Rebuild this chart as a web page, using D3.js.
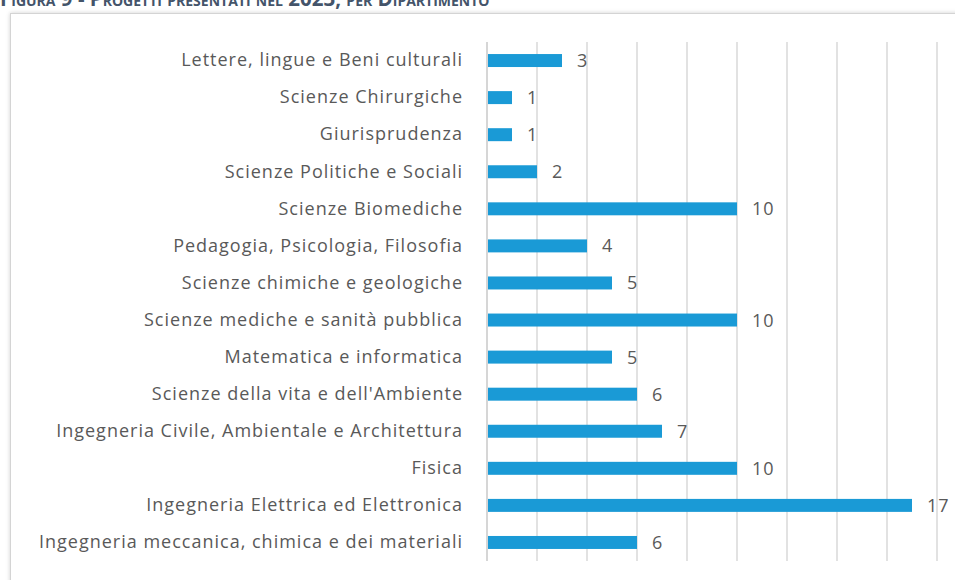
<!DOCTYPE html>
<html><head><meta charset="utf-8">
<script src="https://cdn.jsdelivr.net/npm/d3@7"></script>
<style>
html,body{margin:0;padding:0;background:#fff;}
svg{display:block;}
</style></head>
<body>
<svg id="chart" width="955" height="580"></svg>
<script>
const categories = [
  "Lettere, lingue e Beni culturali",
  "Scienze Chirurgiche",
  "Giurisprudenza",
  "Scienze Politiche e Sociali",
  "Scienze Biomediche",
  "Pedagogia, Psicologia, Filosofia",
  "Scienze chimiche e geologiche",
  "Scienze mediche e sanità pubblica",
  "Matematica e informatica",
  "Scienze della vita e dell'Ambiente",
  "Ingegneria Civile, Ambientale e Architettura",
  "Fisica",
  "Ingegneria Elettrica ed Elettronica",
  "Ingegneria meccanica, chimica e dei materiali"
];
const values = [3, 1, 1, 2, 10, 4, 5, 10, 5, 6, 7, 10, 17, 6];
const gridTicks = [0, 2, 4, 6, 8, 10, 12, 14, 16, 18];
const title = "Figura 9 - Progetti presentati nel 2023, per Dipartimento";

const svg = d3.select("#chart");
const defs = svg.append("defs");
const f = defs.append("filter").attr("id","sh").attr("x","-5%").attr("y","-5%").attr("width","110%").attr("height","110%");
f.append("feDropShadow").attr("dx",0).attr("dy",0).attr("stdDeviation",2).attr("flood-color","#000").attr("flood-opacity",0.18);

// frame
svg.append("rect").attr("x",10.5).attr("y",13.5).attr("width",960).attr("height",600)
  .attr("fill","#fff").attr("stroke","#d4d4d4").attr("stroke-width",1).attr("filter","url(#sh)");

// title (cut at top, as in the reference)
svg.append("text").attr("x",0).attr("y",6)
  .attr("font-family","'Open Sans', 'Liberation Sans', sans-serif")
  .attr("font-weight","bold").attr("font-size",20.5).style("font-variant","small-caps")
  .attr("fill","#44546a").text(title);

const x = d3.scaleLinear().domain([0, 18]).range([487, 937]);
const y = d3.scaleBand().domain(categories).range([42, 561]).paddingInner(0.65).paddingOuter(0.325);

const g = svg.append("g");
// gridlines
g.selectAll("line.grid").data(gridTicks).join("line").attr("class","grid")
  .attr("x1",d=>x(d)).attr("x2",d=>x(d)).attr("y1",42).attr("y2",561)
  .attr("stroke",d=>d===0?"#c8c8c8":"#d9d9d9").attr("stroke-width",1.5);

// bars
g.selectAll("rect.bar").data(values).join("rect").attr("class","bar")
  .attr("x",x(0)+1).attr("y",(d,i)=>y(categories[i]))
  .attr("width",d=>x(d)-x(0)-1).attr("height",y.bandwidth())
  .attr("fill","#1a9ad6");

// value labels
g.selectAll("text.val").data(values).join("text").attr("class","val")
  .attr("x",d=>x(d)+15).attr("y",(d,i)=>y(categories[i])+y.bandwidth()/2)
  .attr("dy","0.36em")
  .attr("font-family","'Open Sans', sans-serif").attr("font-size",18)
  .attr("letter-spacing","1px")
  .attr("fill","#595959").text(d=>d);

// category labels
const yAxis = d3.axisLeft(y).tickSize(0).tickPadding(24);
const ga = svg.append("g").attr("transform",`translate(${x(0)},0)`).call(yAxis);
ga.select(".domain").remove();
ga.selectAll("text").attr("font-family","'Open Sans', sans-serif").attr("font-size",18)
  .attr("letter-spacing","1px")
  .attr("fill","#595959");
</script>
</body></html>
